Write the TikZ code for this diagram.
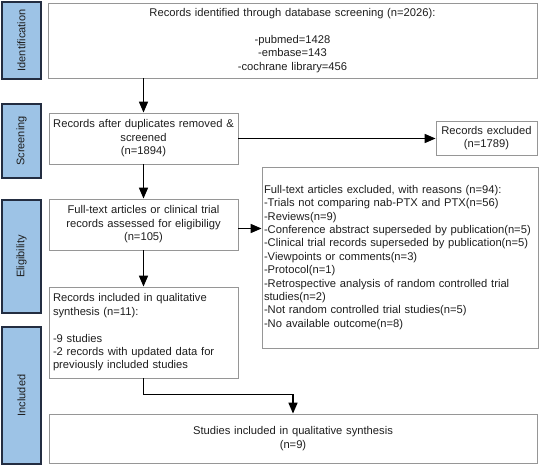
\documentclass[tikz,border=0pt]{standalone}
\usepackage{fontspec}
\setmainfont{Liberation Sans}
\usetikzlibrary{arrows.meta}
\definecolor{barfill}{RGB}{157,195,230}
\definecolor{barline}{RGB}{35,45,65}
\definecolor{boxline}{RGB}{150,150,150}
\definecolor{txt}{RGB}{30,30,30}
\begin{document}
\begin{tikzpicture}[x=1pt,y=-1pt,
  bar/.style={draw=barline, fill=barfill, line width=1.4pt, inner sep=0pt, rotate=90,
    text=txt, font=\fontsize{11}{13}\selectfont},
  box/.style={draw=boxline, line width=0.8pt, inner sep=0pt, align=center, text=txt,
    font=\fontsize{11.2}{13.4}\selectfont},
  lbox/.style={box, align=left},
  arr/.style={-{Triangle[length=11pt,width=9pt]}, line width=1.6pt, black}]
\useasboundingbox (0,0) rectangle (541,465);
% phase bars
\node[bar, minimum width=77pt, minimum height=39pt] (ident) at (21.5,40.5) {Identification};
\node[bar, minimum width=74pt, minimum height=39pt] (screen) at (21.5,141) {Screening};
\node[bar, minimum width=113pt, minimum height=39pt] (elig) at (21.5,256.5) {Eligibility};
\node[bar, minimum width=137pt, minimum height=39pt] (incl) at (21.5,395.5) {Included};
% boxes
\node[box, minimum width=489pt, minimum height=75pt, text width=480pt] (idbox) at (292.5,40.5)
  {Records identified through database screening (n=2026):\\[13.4pt]-pubmed=1428\\-embase=143\\-cochrane library=456};
\node[box, minimum width=189pt, minimum height=51pt, text width=181pt] (scbox) at (143.5,138.5)
  {Records after duplicates removed \&\\screened\\(n=1894)};
\node[box, minimum width=101pt, minimum height=34pt, text width=95pt] (recex) at (486.5,138)
  {Records excluded\\(n=1789)};
\node[box, minimum width=189pt, minimum height=51pt, text width=181pt] (elbox) at (143.5,224.5)
  {Full-text articles or clinical trial\\records assessed for eligibiligy\\(n=105)};
\node[lbox, minimum width=276pt, minimum height=181pt, text width=272pt] (fullex) at (400,257.5)
  {Full-text articles excluded, with reasons (n=94):\\-Trials not comparing nab-PTX and PTX(n=56)\\-Reviews(n=9)\\-Conference abstract superseded by publication(n=5)\\-Clinical trial records superseded by publication(n=5)\\-Viewpoints or comments(n=3)\\-Protocol(n=1)\\-Retrospective analysis of random controlled trial\\studies(n=2)\\-Not random controlled trial studies(n=5)\\-No available outcome(n=8)\\[8pt]};
\node[lbox, minimum width=189pt, minimum height=91pt, text width=181pt] (qualbox) at (143.5,332.5)
  {Records included in qualitative\\synthesis (n=11):\\[13.4pt]-9 studies\\-2 records with updated data for\\previously included studies};
\node[box, minimum width=488pt, minimum height=49pt, text width=480pt] (final) at (293,438.5)
  {Studies included in qualitative synthesis\\(n=9)};
% connectors
\draw[arr] (scbox.north |- idbox.south) -- (scbox.north);
\draw[arr] (scbox.east) -- (scbox.east -| recex.west);
\draw[arr] (scbox.south) -- (elbox.north);
\draw[arr] ([yshift=-4pt]elbox.east) -- ([yshift=-4pt]elbox.east -| fullex.west);
\draw[arr] (elbox.south) -- (qualbox.north);
\draw[arr] (qualbox.south) -- ++(0,16) -| (final.north);
\end{tikzpicture}
\end{document}
